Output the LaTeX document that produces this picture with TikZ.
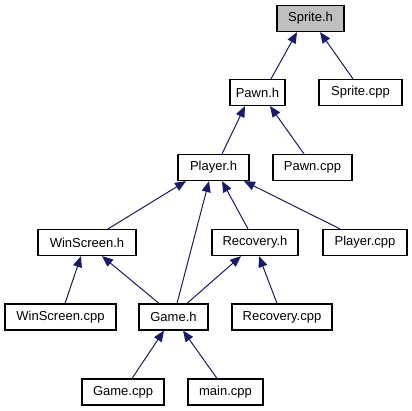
\documentclass[tikz,border=0pt]{standalone}
\usepackage{fontspec}
\setmainfont{Liberation Sans}
\usetikzlibrary{arrows.meta}
\definecolor{edgeblue}{HTML}{191970}
\definecolor{rootgrey}{HTML}{BFBFBF}
\begin{document}
\begin{tikzpicture}[x=1pt,y=-1pt,
  box/.style={draw=black,line width=1.2pt,fill=white,minimum height=26pt,inner sep=0pt,font=\fontsize{13}{15}\selectfont},
  dep/.style={draw=edgeblue,line width=1pt,-{Triangle[length=11pt,width=9pt]},color=edgeblue}]
\useasboundingbox[fill=white] (0,0) rectangle (412,411);
\node[box,fill=rootgrey,minimum width=67pt] (sprh) at (310.5,18.5) {Sprite.h};
\node[box,minimum width=55pt] (pawnh) at (257.5,92.5) {Pawn.h};
\node[box,minimum width=83pt] (sprc) at (360.5,92.5) {Sprite.cpp};
\node[box,minimum width=71pt] (playh) at (213.5,167.5) {Player.h};
\node[box,minimum width=79pt] (pawnc) at (312.5,167.5) {Pawn.cpp};
\node[box,minimum width=98pt] (winh) at (87,242.5) {WinScreen.h};
\node[box,minimum width=86pt] (rech) at (255,242.5) {Recovery.h};
\node[box,minimum width=84pt] (playc) at (365,242.5) {Player.cpp};
\node[box,minimum width=111pt] (winc) at (60.5,317) {WinScreen.cpp};
\node[box,minimum width=69pt] (gameh) at (173.5,317) {Game.h};
\node[box,minimum width=100pt] (recc) at (282,317) {Recovery.cpp};
\node[box,minimum width=82pt] (gamec) at (123,392) {Game.cpp};
\node[box,minimum width=75pt] (mainc) at (225.5,392) {main.cpp};
\draw[dep] ([xshift=13.5pt]pawnh.north) -- ([xshift=-13.5pt]sprh.south);
\draw[dep] ([xshift=-7.5pt]sprc.north) -- ([xshift=9.5pt]sprh.south);
\draw[dep] ([xshift=8.5pt]playh.north) -- ([xshift=-12.5pt]pawnh.south);
\draw[dep] ([xshift=-8.5pt]pawnc.north) -- ([xshift=12.5pt]pawnh.south);
\draw[dep] ([xshift=21pt]winh.north) -- ([xshift=-27.5pt]playh.south);
\draw[dep] ([xshift=3.5pt]gameh.north) -- ([xshift=-4.5pt]playh.south);
\draw[dep] ([xshift=-7pt]rech.north) -- ([xshift=8.5pt]playh.south);
\draw[dep] ([xshift=-25pt]playc.north) -- ([xshift=30.5pt]playh.south);
\draw[dep] ([xshift=4.5pt]winc.north) -- ([xshift=-6pt]winh.south);
\draw[dep] ([xshift=-14.5pt]gameh.north) -- ([xshift=15pt]winh.south);
\draw[dep] ([xshift=13.5pt]gameh.north) -- ([xshift=-14pt]rech.south);
\draw[dep] ([xshift=-5pt]recc.north) -- ([xshift=4pt]rech.south);
\draw[dep] ([xshift=9pt]gamec.north) -- ([xshift=-9.5pt]gameh.south);
\draw[dep] ([xshift=-8.5pt]mainc.north) -- ([xshift=9.5pt]gameh.south);
\end{tikzpicture}
\end{document}
